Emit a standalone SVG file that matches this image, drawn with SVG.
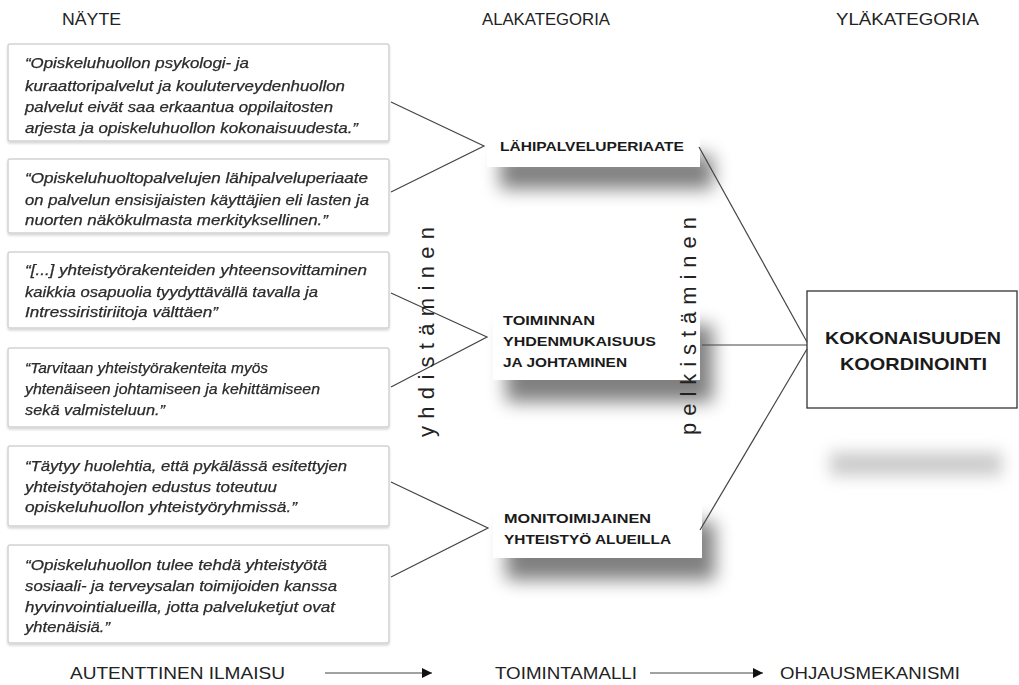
<svg xmlns="http://www.w3.org/2000/svg" width="1019" height="685" viewBox="0 0 1019 685">
<style>
.hdr{font-family:"Liberation Sans",Arial,sans-serif;font-size:17px;fill:#222}
.q{font-family:"Liberation Sans",Arial,sans-serif;font-size:14px;font-style:italic;fill:#2b2b2b;stroke:#2b2b2b;stroke-width:0.25}
.qb{fill:#fff;stroke:#d2d2d2;stroke-width:1.5}
.lbl{font-family:"Liberation Sans",Arial,sans-serif;font-size:13px;font-weight:bold;fill:#1a1a1a}
.big{font-family:"Liberation Sans",Arial,sans-serif;font-size:17px;font-weight:bold;fill:#1a1a1a}
.rot{font-family:"Liberation Sans",Arial,sans-serif;font-size:22px;fill:#222}
.con{stroke:#444;stroke-width:1.2;fill:none}
.nb{fill:#fff}
</style>
<defs>
<filter id="sh" x="-30%" y="-80%" width="180%" height="320%">
<feGaussianBlur in="SourceAlpha" stdDeviation="9"/>
<feOffset dx="13" dy="22" result="o"/>
<feComponentTransfer><feFuncA type="linear" slope="0.5"/></feComponentTransfer>
<feMerge><feMergeNode/><feMergeNode in="SourceGraphic"/></feMerge>
</filter>
<filter id="qs" x="-5%" y="-10%" width="110%" height="130%">
<feGaussianBlur in="SourceAlpha" stdDeviation="1"/>
<feOffset dx="0" dy="1.5"/>
<feComponentTransfer><feFuncA type="linear" slope="0.15"/></feComponentTransfer>
<feMerge><feMergeNode/><feMergeNode in="SourceGraphic"/></feMerge>
</filter>
<filter id="blur" x="-30%" y="-150%" width="160%" height="400%">
<feGaussianBlur stdDeviation="8"/>
</filter>
<marker id="arr" viewBox="0 0 10 10" refX="10" refY="5" markerWidth="11" markerHeight="10" markerUnits="userSpaceOnUse" orient="auto">
<path d="M0,0 L10,5 L0,10 z" fill="#111"/>
</marker>
</defs>
<rect width="1019" height="685" fill="#fff"/>

<g id="headers">
<text class="hdr" x="62" y="25" textLength="59" lengthAdjust="spacingAndGlyphs">NÄYTE</text>
<text class="hdr" x="482" y="25" textLength="128" lengthAdjust="spacingAndGlyphs">ALAKATEGORIA</text>
<text class="hdr" x="836" y="25" textLength="143" lengthAdjust="spacingAndGlyphs">YLÄKATEGORIA</text>
</g>

<g id="q1" filter="url(#qs)">
<rect class="qb" x="8" y="44" width="381" height="97" rx="2"/>
<text class="q" x="25" y="68" textLength="224" lengthAdjust="spacingAndGlyphs">“Opiskeluhuollon psykologi- ja</text>
<text class="q" x="25" y="91" textLength="320" lengthAdjust="spacingAndGlyphs">kuraattoripalvelut ja kouluterveydenhuollon</text>
<text class="q" x="25" y="112" textLength="308" lengthAdjust="spacingAndGlyphs">palvelut eivät saa erkaantua oppilaitosten</text>
<text class="q" x="25" y="133" textLength="333" lengthAdjust="spacingAndGlyphs">arjesta ja opiskeluhuollon kokonaisuudesta.”</text>
</g>
<g id="q2" filter="url(#qs)">
<rect class="qb" x="8" y="159" width="381" height="74" rx="2"/>
<text class="q" x="25" y="183" textLength="343" lengthAdjust="spacingAndGlyphs">“Opiskeluhuoltopalvelujen lähipalveluperiaate</text>
<text class="q" x="25" y="205" textLength="344" lengthAdjust="spacingAndGlyphs">on palvelun ensisijaisten käyttäjien eli lasten ja</text>
<text class="q" x="25" y="225" textLength="303" lengthAdjust="spacingAndGlyphs">nuorten näkökulmasta merkityksellinen.”</text>
</g>
<g id="q3" filter="url(#qs)">
<rect class="qb" x="8" y="252" width="381" height="76" rx="2"/>
<text class="q" x="25" y="275" textLength="342" lengthAdjust="spacingAndGlyphs">“[...] yhteistyörakenteiden yhteensovittaminen</text>
<text class="q" x="25" y="297" textLength="293" lengthAdjust="spacingAndGlyphs">kaikkia osapuolia tyydyttävällä tavalla ja</text>
<text class="q" x="25" y="317" textLength="193" lengthAdjust="spacingAndGlyphs">Intressiristiriitoja välttäen”</text>
</g>
<g id="q4" filter="url(#qs)">
<rect class="qb" x="8" y="348" width="381" height="79" rx="2"/>
<text class="q" x="25" y="373" textLength="243" lengthAdjust="spacingAndGlyphs">“Tarvitaan yhteistyörakenteita myös</text>
<text class="q" x="25" y="394" textLength="295" lengthAdjust="spacingAndGlyphs">yhtenäiseen johtamiseen ja kehittämiseen</text>
<text class="q" x="25" y="415" textLength="140" lengthAdjust="spacingAndGlyphs">sekä valmisteluun.”</text>
</g>
<g id="q5" filter="url(#qs)">
<rect class="qb" x="8" y="446" width="381" height="80" rx="2"/>
<text class="q" x="25" y="471" textLength="322" lengthAdjust="spacingAndGlyphs">“Täytyy huolehtia, että pykälässä esitettyjen</text>
<text class="q" x="25" y="492" textLength="252" lengthAdjust="spacingAndGlyphs">yhteistyötahojen edustus toteutuu</text>
<text class="q" x="25" y="512" textLength="272" lengthAdjust="spacingAndGlyphs">opiskeluhuollon yhteistyöryhmissä.”</text>
</g>
<g id="q6" filter="url(#qs)">
<rect class="qb" x="8" y="545" width="381" height="98" rx="2"/>
<text class="q" x="25" y="570" textLength="302" lengthAdjust="spacingAndGlyphs">“Opiskeluhuollon tulee tehdä yhteistyötä</text>
<text class="q" x="25" y="591" textLength="312" lengthAdjust="spacingAndGlyphs">sosiaali- ja terveysalan toimijoiden kanssa</text>
<text class="q" x="25" y="612" textLength="310" lengthAdjust="spacingAndGlyphs">hyvinvointialueilla, jotta palveluketjut ovat</text>
<text class="q" x="25" y="632" textLength="85" lengthAdjust="spacingAndGlyphs">yhtenäisiä.”</text>
</g>

<g id="stray-shadow">
<rect x="830" y="452" width="172" height="24" fill="#999" opacity="0.5" filter="url(#blur)"/>
</g>

<g id="n-lahi">
<rect class="nb" x="487" y="133" width="213" height="34" filter="url(#sh)"/>
<text class="lbl" x="500" y="151" textLength="184" lengthAdjust="spacingAndGlyphs">LÄHIPALVELUPERIAATE</text>
</g>
<g id="n-toiminnan">
<rect class="nb" x="493" y="303" width="207" height="77" filter="url(#sh)"/>
<text class="lbl" x="503" y="325" textLength="92" lengthAdjust="spacingAndGlyphs">TOIMINNAN</text>
<text class="lbl" x="503" y="346" textLength="153" lengthAdjust="spacingAndGlyphs">YHDENMUKAISUUS</text>
<text class="lbl" x="503" y="367" textLength="124" lengthAdjust="spacingAndGlyphs">JA JOHTAMINEN</text>
</g>
<g id="n-moni">
<rect class="nb" x="493" y="500" width="209" height="58" filter="url(#sh)"/>
<text class="lbl" x="504" y="523" textLength="147" lengthAdjust="spacingAndGlyphs">MONITOIMIJAINEN</text>
<text class="lbl" x="504" y="544" textLength="167" lengthAdjust="spacingAndGlyphs">YHTEISTYÖ ALUEILLA</text>
</g>
<g id="n-koko">
<rect x="807" y="291" width="210" height="117" fill="#fff" stroke="#333" stroke-width="1.3"/>
<text class="big" x="825" y="344" textLength="176" lengthAdjust="spacingAndGlyphs">KOKONAISUUDEN</text>
<text class="big" x="840" y="370" textLength="147" lengthAdjust="spacingAndGlyphs">KOORDINOINTI</text>
</g>

<g id="connectors">
<polyline class="con" points="391,102 484,146 391,192"/>
<polyline class="con" points="391,293 487,337 391,387"/>
<polyline class="con" points="391,482 488,528 391,577"/>
<line class="con" x1="699" y1="147" x2="807" y2="342"/>
<line class="con" x1="702" y1="345" x2="807" y2="345"/>
<line class="con" x1="700" y1="530" x2="807" y2="349"/>
<line class="con" x1="325" y1="673" x2="432" y2="673" marker-end="url(#arr)"/>
<line class="con" x1="650" y1="673" x2="763" y2="673" marker-end="url(#arr)"/>
</g>

<g id="rotated-labels">
<text class="rot" transform="translate(434,332) rotate(-90)" text-anchor="middle" textLength="210" lengthAdjust="spacing">yhdistäminen</text>
<text class="rot" transform="translate(696,326) rotate(-90)" text-anchor="middle" textLength="218" lengthAdjust="spacing">pelkistäminen</text>
</g>

<g id="footer">
<text class="hdr" x="70" y="679" textLength="215" lengthAdjust="spacingAndGlyphs">AUTENTTINEN ILMAISU</text>
<text class="hdr" x="495" y="679" textLength="142" lengthAdjust="spacingAndGlyphs">TOIMINTAMALLI</text>
<text class="hdr" x="780" y="679" textLength="180" lengthAdjust="spacingAndGlyphs">OHJAUSMEKANISMI</text>
</g>
</svg>
